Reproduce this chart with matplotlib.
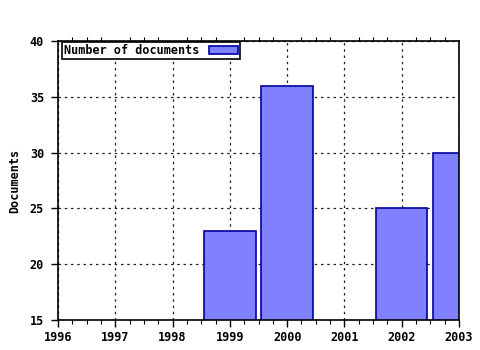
import matplotlib.pyplot as plt
from matplotlib.ticker import MultipleLocator

years = [1999, 2000, 2002, 2003]
docs = [23, 36, 25, 30]
xticks = [1996, 1997, 1998, 1999, 2000, 2001, 2002, 2003]
yticks = [15, 20, 25, 30, 35, 40]

plt.rcParams['font.family'] = 'DejaVu Sans Mono'
plt.rcParams['font.weight'] = 'bold'
plt.rcParams['axes.labelweight'] = 'bold'
plt.rcParams['font.size'] = 8.5

fig = plt.figure(figsize=(4.8, 3.5), dpi=100)
ax = fig.add_axes([58/480, 1 - 320/350, (459-58)/480, (320-41)/350])

ax.bar(years, docs, width=0.9, color='#8080ff', edgecolor='#0000a0',
       linewidth=1.2, label='Number of documents', zorder=2)

ax.set_xlim(1996, 2003)
ax.set_ylim(15, 40)
ax.set_xticks(xticks)
ax.set_yticks(yticks)
ax.xaxis.set_minor_locator(MultipleLocator(0.25))
ax.grid(True, which='major', linestyle=(0, (2, 3)), color='#222222', linewidth=0.9, zorder=0)
ax.set_axisbelow(True)

ax.tick_params(axis='x', which='major', direction='out', length=5, width=1, top=False, pad=3)
ax.tick_params(axis='x', which='minor', direction='out', length=3, width=0.8, top=True)
ax.tick_params(axis='y', which='major', direction='out', length=5, width=1, pad=5)
for s in ax.spines.values():
    s.set_linewidth(1.2)

ax.set_ylabel('Documents', labelpad=6)

leg = ax.legend(loc='upper left', bbox_to_anchor=(0.01, 0.995), frameon=True, fancybox=False,
                edgecolor='black', framealpha=1, borderpad=0.15, handlelength=2.5,
                handleheight=0.6, markerfirst=False, borderaxespad=0, handletextpad=0.8)
leg.get_frame().set_linewidth(1.2)

fig.savefig('out.png', dpi=100)
